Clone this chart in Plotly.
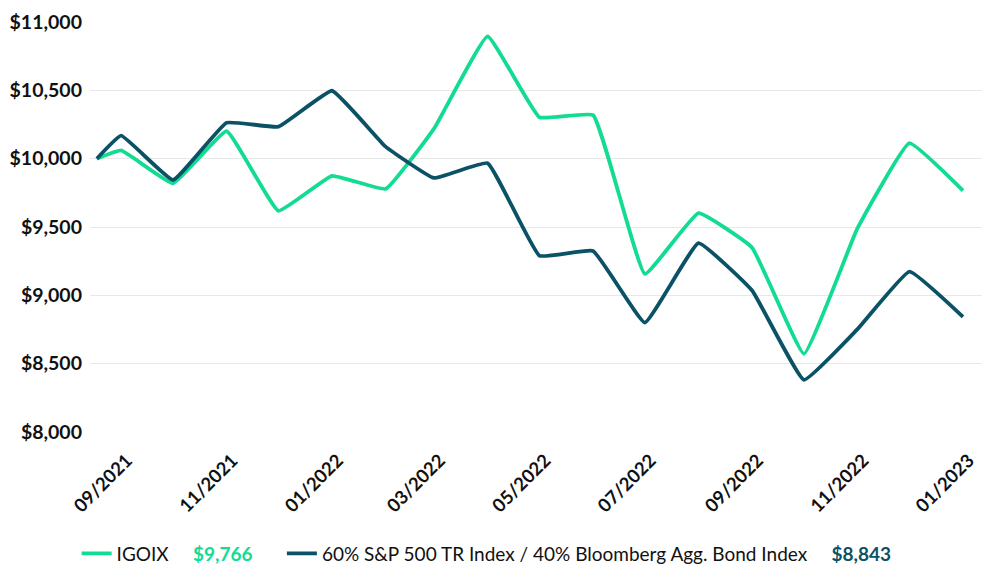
import plotly.graph_objects as go

dates = ["2021-08-17", "2021-08-31", "2021-09-30", "2021-10-31", "2021-11-30", "2021-12-31",
         "2022-01-31", "2022-02-28", "2022-03-31", "2022-04-30", "2022-05-31", "2022-06-30",
         "2022-07-31", "2022-08-31", "2022-09-30", "2022-10-31", "2022-11-30", "2022-12-31"]
igoix = [10000, 10060, 9820, 10202, 9618, 9874, 9779, 10220, 10895, 10303, 10319, 9157,
         9601, 9349, 8572, 9491, 10113, 9766]
blend = [10000, 10168, 9844, 10263, 10234, 10497, 10088, 9859, 9967, 9290, 9325, 8801,
         9382, 9035, 8382, 8753, 9174, 8843]

tick_dates = ["2021-09-01", "2021-11-01", "2022-01-01", "2022-03-01", "2022-05-01",
              "2022-07-01", "2022-09-01", "2022-11-01", "2023-01-01"]
tick_labels = ["09/2021", "11/2021", "01/2022", "03/2022", "05/2022", "07/2022",
               "09/2022", "11/2022", "01/2023"]
y_ticks = [8000, 8500, 9000, 9500, 10000, 10500, 11000]
y_labels = ["$8,000", "$8,500", "$9,000", "$9,500", "$10,000", "$10,500", "$11,000"]

green = "#12DB92"
dark = "#0B5266"
sp = "&nbsp;" * 5

fig = go.Figure()
fig.add_trace(go.Scatter(
    x=dates, y=igoix, mode="lines",
    line=dict(color=green, width=3.8, shape="spline", smoothing=0.3),
    name=f"IGOIX{sp}<b><span style='color:{green}'>$9,766</span></b>" + "&nbsp;" * 5,
))
fig.add_trace(go.Scatter(
    x=dates, y=blend, mode="lines",
    line=dict(color=dark, width=3.8, shape="spline", smoothing=0.3),
    name=f"60% S&P 500 TR Index / 40% Bloomberg Agg. Bond Index{sp}<b><span style='color:{dark}'>$8,843</span></b>",
))

fig.update_layout(
    width=982, height=569,
    margin=dict(l=90, r=0, t=22, b=137, autoexpand=False),
    paper_bgcolor="white", plot_bgcolor="white",
    font=dict(family="Lato", color="#111111"),
    showlegend=True,
    legend=dict(orientation="h", x=-0.015, xanchor="left", y=-0.25, yanchor="top",
                font=dict(size=19, family="Lato", color="#111111"),
                itemwidth=30, tracegroupgap=0),
    xaxis=dict(type="date", range=["2021-08-13", "2023-01-11"], automargin=False,
               tickvals=tick_dates, ticktext=tick_labels, tickangle=-45,
               tickfont=dict(size=18.5, family="Lato", weight="bold", color="#111111"),
               ticklabelstandoff=13, ticklabelshift=4,
               showgrid=False, zeroline=False, showline=False, ticks=""),
    yaxis=dict(range=[8000, 11000], tickvals=y_ticks, ticktext=y_labels, automargin=False,
               tickfont=dict(size=19.5, family="Lato", weight="bold", color="#111111"),
               showgrid=True, gridcolor="#E8E8E8", gridwidth=1,
               zeroline=False, showline=False, ticks="", ticklabelstandoff=7),
)

fig.write_html("out.html")
